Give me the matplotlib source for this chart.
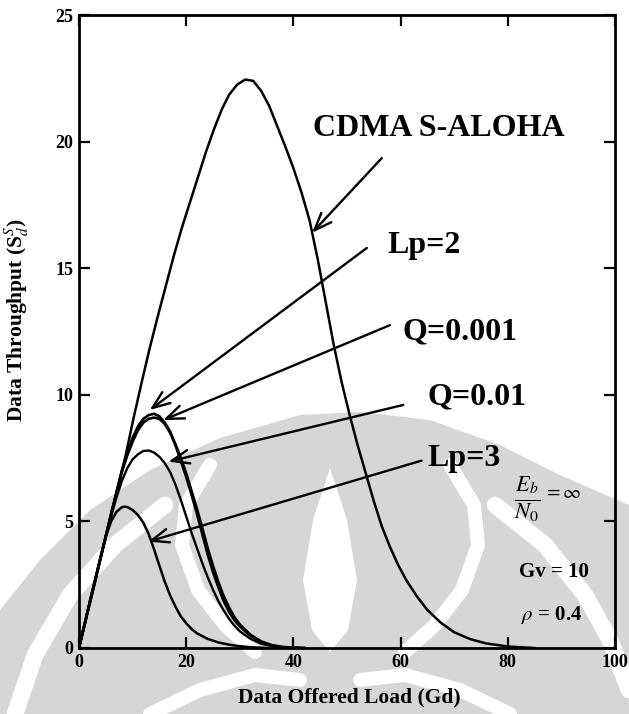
import matplotlib
matplotlib.use("Agg")
import matplotlib.pyplot as plt
from matplotlib.patches import Polygon

plt.rcParams["font.family"] = ["Liberation Serif", "DejaVu Serif"]
plt.rcParams["mathtext.fontset"] = "stix"

# Data offered load (Gd) vs data throughput (S_d^S)
g_aloha = [0, 3, 6, 8.7, 10.2, 11.7, 13.2, 14.7, 16.2, 17.7, 19.2, 20.7, 22.2,
           23.7, 25.2, 26.7, 28.0, 29.5, 31.0, 32.5, 34.0, 35.5, 37.0, 38.5,
           40.0, 41.5, 43.0, 44.5, 46.0, 47.5, 49.0, 50.5, 52.0, 53.5, 55.0,
           56.5, 58.0, 59.5, 61.0, 63.0, 65.0, 67.5, 70.0, 73.0, 76.0, 80.0, 85.0]
s_aloha = [0, 2.6, 5.3, 7.6, 9.1, 10.5, 11.85, 13.1, 14.3, 15.5, 16.6, 17.6, 18.6,
           19.6, 20.5, 21.3, 21.85, 22.25, 22.45, 22.4, 22.0, 21.4, 20.6, 19.8,
           18.95, 18.0, 16.9, 15.4, 13.7, 12.0, 10.5, 9.2, 8.0, 6.9, 5.8,
           4.8, 4.0, 3.3, 2.7, 2.05, 1.5, 1.0, 0.62, 0.35, 0.18, 0.06, 0]

g_lp2 = [0, 2, 4, 6, 8, 9, 10, 11, 12, 13, 14, 15, 16, 17, 18, 19, 20, 21, 22,
         23, 24, 25, 26, 27, 28, 29, 30, 32, 34, 36, 38, 42]
s_lp2 = [0, 1.8, 3.55, 5.3, 7.0, 7.7, 8.3, 8.75, 9.05, 9.2, 9.25, 9.15, 8.9,
         8.55, 8.0, 7.4, 6.75, 6.05, 5.3, 4.5, 3.7, 3.0, 2.4, 1.85, 1.42, 1.1,
         0.85, 0.48, 0.24, 0.1, 0.03, 0]

g_q001 = [0, 2, 4, 6, 8, 9, 10, 11, 12, 13, 14, 15, 16, 17, 18, 19, 20, 21, 22,
          23, 24, 25, 26, 27, 28, 29, 30, 32, 34, 36, 38, 42]
s_q001 = [0, 1.8, 3.55, 5.3, 6.95, 7.6, 8.15, 8.6, 8.9, 9.05, 9.1, 9.05, 8.85,
          8.5, 8.05, 7.5, 6.9, 6.2, 5.5, 4.75, 3.95, 3.25, 2.6, 2.05, 1.6, 1.22,
          0.93, 0.52, 0.26, 0.11, 0.04, 0]

g_q01 = [0, 2, 4, 6, 7, 8, 9, 10, 11, 12, 13, 14, 15, 16, 17, 18, 19, 20, 21,
         22, 23, 24, 25, 26, 27, 28, 29, 30, 32, 34, 36, 38, 40]
s_q01 = [0, 1.8, 3.55, 5.2, 5.95, 6.6, 7.1, 7.45, 7.65, 7.78, 7.8, 7.72, 7.55,
         7.3, 6.95, 6.45, 5.85, 5.2, 4.55, 3.95, 3.35, 2.8, 2.3, 1.85, 1.48,
         1.15, 0.88, 0.66, 0.36, 0.17, 0.07, 0.02, 0]

g_lp3 = [0, 2, 4, 5, 6, 7, 8, 8.5, 9, 10, 11, 12, 13, 14, 15, 16, 17, 18, 19,
         20, 21, 22, 24, 26, 28, 30, 32, 35]
s_lp3 = [0, 1.8, 3.55, 4.4, 5.0, 5.38, 5.56, 5.58, 5.57, 5.45, 5.25, 4.95, 4.5,
         3.9, 3.25, 2.62, 2.08, 1.63, 1.25, 0.98, 0.75, 0.58, 0.36, 0.22, 0.13,
         0.07, 0.03, 0]

x_ticks = [0, 20, 40, 60, 80, 100]
y_ticks = [0, 5, 10, 15, 20, 25]

# label text, arrow tip (on curve), arrow tail, text anchor
labels = ["CDMA S-ALOHA", "Lp=2", "Q=0.001", "Q=0.01", "Lp=3"]
tips = [(43.5, 16.4), (13.2, 9.4), (15.7, 9.0), (16.7, 7.36), (12.9, 4.2)]
tails = [(56.5, 19.35), (53.7, 15.8), (58.0, 12.75), (60.5, 9.6), (63.9, 7.4)]
text_pos = [(43.7, 20.5), (57.6, 15.9), (60.3, 12.5), (65.1, 9.9), (65.1, 7.5)]

W, H = 629, 714
fig = plt.figure(figsize=(W / 100, H / 100), dpi=100)
fig.patch.set_facecolor("white")


def fpts(points):
    return [(x / W, 1 - y / H) for x, y in points]


def fig_poly(points, color):
    fig.add_artist(Polygon(fpts(points), closed=True, transform=fig.transFigure,
                           facecolor=color, edgecolor="none", zorder=0))


def fig_stroke(points, width):
    xs = [p[0] / W for p in points]
    ys = [1 - p[1] / H for p in points]
    fig.add_artist(plt.Line2D(xs, ys, transform=fig.transFigure, color="white",
                              lw=width, solid_capstyle="round",
                              solid_joinstyle="round", zorder=0))


# faint emblem in the lower part of the page
grey = "#d6d6d6"
fig_poly([(0, 714), (0, 610), (40, 560), (90, 510), (150, 470), (220, 438),
          (300, 415), (360, 412), (430, 420), (500, 445), (560, 475),
          (629, 505), (629, 714)], grey)
# central drop
fig_poly([(330, 468), (347, 520), (357, 580), (348, 630), (330, 652),
          (312, 630), (303, 580), (313, 520)], "white")
# inner wings
fig_stroke([(450, 465), (474, 505), (478, 545), (462, 590), (435, 625),
            (405, 652)], 10)
fig_stroke([(210, 465), (186, 505), (182, 545), (198, 590), (225, 625),
            (255, 652)], 10)
# outer ring gaps
fig_stroke([(15, 714), (35, 655), (70, 595), (115, 545), (165, 505)], 12)
fig_stroke([(629, 690), (610, 640), (585, 595), (545, 545), (495, 505)], 12)
fig_stroke([(150, 714), (200, 690), (255, 675), (300, 680)], 10)
fig_stroke([(510, 714), (460, 690), (405, 675), (360, 680)], 10)

ax = fig.add_axes([79 / W, 1 - 648 / H, 536 / W, 633 / H])
ax.set_facecolor("none")
ax.set_xlim(0, 100)
ax.set_ylim(0, 25)

ax.plot(g_aloha, s_aloha, color="black", lw=1.8)
ax.plot(g_lp2, s_lp2, color="black", lw=1.9)
ax.plot(g_q001, s_q001, color="black", lw=1.9)
ax.plot(g_q01, s_q01, color="black", lw=1.7)
ax.plot(g_lp3, s_lp3, color="black", lw=1.8)

for lab, tip, tail, tp in zip(labels, tips, tails, text_pos):
    ax.annotate("", xy=tip, xytext=tail,
                arrowprops=dict(arrowstyle="->, head_length=0.9, head_width=0.35",
                                lw=1.7, color="black", shrinkA=0, shrinkB=0,
                                mutation_scale=14))
    ax.text(tp[0], tp[1], lab, fontsize=23, fontweight="bold", ha="left",
            va="center", color="black")

ax.set_xticks(x_ticks)
ax.set_yticks(y_ticks)
ax.tick_params(direction="in", length=8, width=1.6, top=True, right=True,
               labelsize=13, pad=4)
for t in ax.get_xticklabels() + ax.get_yticklabels():
    t.set_fontweight("bold")
for sp in ax.spines.values():
    sp.set_linewidth(2)

ax.text(81.2, 5.9, r"$\frac{E_b}{N_0}$", fontsize=23, ha="left", va="center")
ax.text(86.7, 6.1, r"$=\infty$", fontsize=14, ha="left", va="center")
ax.text(82.0, 3.0, "Gv = 10", fontsize=15, fontweight="bold", ha="left", va="center")
ax.text(82.5, 1.3, r"$\rho$ = 0.4", fontsize=15, fontweight="bold", ha="left",
        va="center")

fig.text(349 / W, 1 - 697 / H, "Data Offered Load (Gd)", fontsize=15.5,
         fontweight="bold", ha="center", va="center")
fig.text(17 / W, 1 - 320 / H, r"Data Throughput (S$_d^S$)", fontsize=15.5,
         fontweight="bold", ha="center", va="center", rotation=90)

fig.savefig("out.png", dpi=100, facecolor="white")
